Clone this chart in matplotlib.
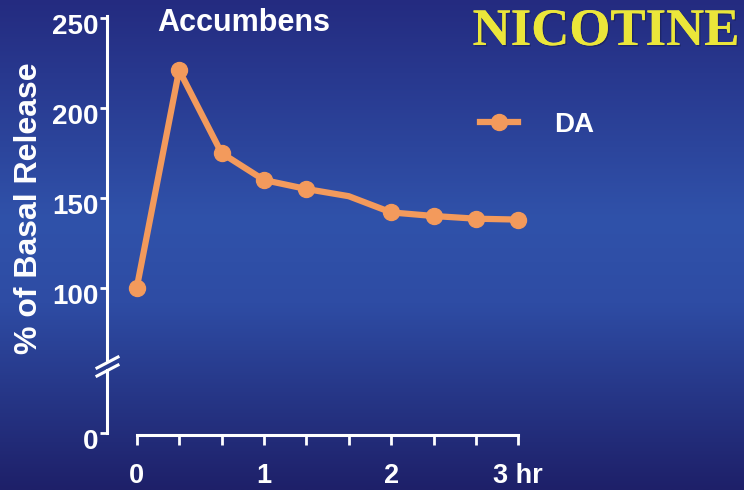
import numpy as np
import matplotlib
matplotlib.use("Agg")
import matplotlib.pyplot as plt
import matplotlib.transforms as mtransforms
import matplotlib.patheffects as pe
from matplotlib.colors import LinearSegmentedColormap
from matplotlib.lines import Line2D

# dopamine in nucleus accumbens after nicotine, % of basal release
time_hr = [0, 1/3, 2/3, 1, 4/3, 5/3, 2, 7/3, 8/3, 3]
da_pct = [100, 221, 175, 160, 155, 151, 142, 140, 138.5, 138]
marked = [0, 1, 2, 3, 4, 6, 7, 8, 9]      # no sample drawn at 5/3 hr

y_ticks = [100, 150, 200, 250]
x_ticks = [0, 1/3, 2/3, 1, 4/3, 5/3, 2, 7/3, 8/3, 3]
x_labels = ["0", "", "", "1", "", "", "2", "", "", "3 hr"]

W, H = 744, 490
orange = "#f39a5c"
white = "white"
plt.rcParams["font.family"] = ["Liberation Sans", "DejaVu Sans"]

fig = plt.figure(figsize=(W / 100, H / 100), dpi=100)

# blue slide background, dark at top and bottom
bg = fig.add_axes([0, 0, 1, 1], zorder=-10)
cmap = LinearSegmentedColormap.from_list(
    "slide", [(0, "#242b80"), (0.45, "#3052aa"), (0.62, "#2e4ca4"), (1, "#1e2069")])
bg.imshow(np.linspace(0, 1, 256)[:, None], aspect="auto", cmap=cmap,
          extent=[0, 1, 0, 1], origin="upper")
bg.set_axis_off()

def px(x0, y_top, x1, y_bot):
    return [x0 / W, 1 - y_bot / H, (x1 - x0) / W, (y_bot - y_top) / H]

xpx = (518.3 - 136.7) / 3
xlim = (-(136.7 - 107) / xpx, (W - 136.7) / xpx)

ax = fig.add_axes(px(107, 16, W, 360))
low = fig.add_axes(px(107, 370, W, 435))
for a in (ax, low):
    a.set_facecolor("none")
    a.set_xlim(*xlim)
    for s in ("top", "right"):
        a.spines[s].set_visible(False)
    a.spines["left"].set_color(white)
    a.spines["left"].set_linewidth(2.2)
    a.tick_params(colors=white, width=2, length=5, labelsize=20, pad=1)

ax.set_ylim(60, 251.1)
ax.spines["bottom"].set_visible(False)
ax.spines["left"].set_bounds(60, 251.1)
ax.set_xticks([])
ax.set_yticks(y_ticks)

low.set_ylim(-1, 34)
low.spines["left"].set_bounds(0, 34)
low.set_yticks([0])
low.spines["bottom"].set_color(white)
low.spines["bottom"].set_linewidth(2.2)
low.spines["bottom"].set_bounds(0, 3)
low.set_xticks(x_ticks)
low.set_xticklabels(x_labels)
low.tick_params(axis="x", length=7, pad=13, labelsize=19.5)

shift = mtransforms.ScaledTranslation(0, -6 / 100, fig.dpi_scale_trans)
for a in (ax, low):
    for lab in a.get_yticklabels() + a.get_xticklabels():
        lab.set_fontweight("bold")
    for lab in a.get_yticklabels():
        lab.set_transform(lab.get_transform() + shift)

# axis break marks
for dy in (0, 8):
    fig.add_artist(Line2D([97 / W, 118 / W], [1 - (368 + dy) / H, 1 - (357 + dy) / H],
                          color=white, lw=2.2))

ax.plot(time_hr, da_pct, color=orange, lw=4.5, marker="o", markersize=11.5,
        markevery=marked, solid_joinstyle="round", label="DA", clip_on=False)

leg = ax.legend(loc="center left", bbox_to_anchor=(480 / W, 1 - 125 / H),
                bbox_transform=fig.transFigure, frameon=False, fontsize=20,
                handlelength=1.37, handletextpad=1.3, borderpad=0, borderaxespad=0)
for t in leg.get_texts():
    t.set_color(white)
    t.set_fontweight("bold")

fig.text(29 / W, 1 - 208 / H, "% of Basal Release", rotation=90, color=white,
         fontsize=23, fontweight="bold", ha="center", va="center")
fig.text(244 / W, 1 - 23 / H, "Accumbens", color=white, fontsize=22,
         fontweight="bold", ha="center", va="center")
fig.text(606 / W, 1 - 32 / H, "NICOTINE", color="#ebe63a", fontsize=38,
         fontweight="bold", family=["Liberation Serif", "DejaVu Serif"],
         ha="center", va="center",
         path_effects=[pe.withSimplePatchShadow(offset=(1, -1), shadow_rgbFace="#1a1f55",
                                                alpha=0.6), pe.Normal()])

fig.savefig("out.png", dpi=100)
